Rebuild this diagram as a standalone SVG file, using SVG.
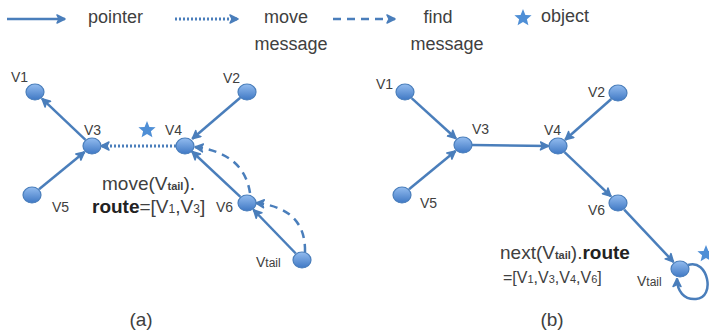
<svg xmlns="http://www.w3.org/2000/svg" width="709" height="335" viewBox="0 0 709 335">
<defs>
  <linearGradient id="ng" x1="0" y1="0" x2="0" y2="1">
    <stop offset="0" stop-color="#93bcef"/>
    <stop offset="1" stop-color="#3f78c4"/>
  </linearGradient>
  <marker id="ah" viewBox="0 0 10 10" refX="9" refY="5" markerWidth="10" markerHeight="10" markerUnits="userSpaceOnUse" orient="auto">
    <path d="M1,1 L9,5 L1,9 L3,5 Z" fill="#4a7ebb" stroke="#4a7ebb" stroke-width="1.5" stroke-linejoin="round"/>
  </marker>
  <path id="star" d="M0,-9 L2.4,-3.1 L8.6,-2.8 L3.9,1.2 L5.4,7.3 L0,3.9 L-5.4,7.3 L-3.9,1.2 L-8.6,-2.8 L-2.4,-3.1 Z"/>
</defs>
<style>
  .e { stroke:#4a7ebb; stroke-width:2.5; fill:none; marker-end:url(#ah); }
  .dot { stroke-dasharray:2 2; stroke-width:3; }
  .dash { stroke-dasharray:8 6; }
  .n { fill:url(#ng); stroke:#4a7ebb; stroke-width:1.2; }
  .t { font-family:"Liberation Sans", Arial, sans-serif; fill:#404040; }
  .lg { font-size:18px; }
  .nl { font-size:14px; }
  .big { font-size:19px; }
  .st { fill:#4f8fd6; }
</style>
<rect width="709" height="335" fill="#ffffff"/>

<g id="legend">
  <line class="e" x1="7" y1="19" x2="65" y2="19"/>
  <text class="t lg" x="88" y="23">pointer</text>
  <line class="e dot" x1="175" y1="19" x2="238" y2="19"/>
  <text class="t lg" x="286" y="23" text-anchor="middle">move</text>
  <text class="t lg" x="291" y="50" text-anchor="middle">message</text>
  <line class="e dash" x1="333" y1="19" x2="395" y2="19"/>
  <text class="t lg" x="438" y="23" text-anchor="middle">find</text>
  <text class="t lg" x="447" y="50" text-anchor="middle">message</text>
  <use href="#star" class="st" x="523" y="18"/>
  <text class="t lg" x="541" y="22">object</text>
</g>

<g id="connectors-a">
  <line class="e" x1="85.5" y1="139.8" x2="42" y2="98.7"/>
  <line class="e" x1="39" y1="189.3" x2="84.5" y2="152"/>
  <line class="e" x1="240.2" y1="97.8" x2="192.3" y2="138.8"/>
  <line class="e" x1="240.4" y1="196.9" x2="192" y2="151.5"/>
  <line class="e" x1="295.8" y1="253.5" x2="253.5" y2="209.8"/>
  <line class="e dot" x1="176" y1="146" x2="101" y2="146"/>
  <path class="e dash" d="M305,252 Q306,208 256,203"/>
  <path class="e dash" d="M250,193 Q244,153 195,147"/>
</g>

<g id="a-V1"><ellipse class="n" cx="35" cy="92" rx="9" ry="8"/><text class="t nl" x="11" y="82">V1</text></g>
<g id="a-V2"><ellipse class="n" cx="247" cy="92" rx="9" ry="8"/><text class="t nl" x="223" y="83">V2</text></g>
<g id="a-V3"><ellipse class="n" cx="92" cy="146" rx="9" ry="8"/><text class="t nl" x="84" y="135">V3</text></g>
<g id="a-V4"><ellipse class="n" cx="185" cy="146" rx="9" ry="8"/><text class="t nl" x="165" y="135">V4</text></g>
<g id="a-V5"><ellipse class="n" cx="32" cy="195" rx="9" ry="8"/><text class="t nl" x="52" y="212">V5</text></g>
<g id="a-V6"><ellipse class="n" cx="247" cy="203" rx="9" ry="8"/><text class="t nl" x="216" y="212">V6</text></g>
<g id="a-Vtail"><ellipse class="n" cx="302" cy="260" rx="9" ry="8"/><text class="t nl" x="256" y="267">V<tspan font-size="12">tail</tspan></text></g>
<g id="a-object"><use href="#star" class="st" x="147" y="130"/></g>
<g id="a-label">
  <text class="t big" x="102" y="190">move(V<tspan font-size="11" font-weight="bold">tail</tspan>).</text>
  <text class="t big" x="92" y="213"><tspan font-weight="bold" fill="#222">route</tspan>=[V<tspan font-size="12">1</tspan>,V<tspan font-size="12">3</tspan>]</text>
</g>
<text class="t big" x="141" y="326" text-anchor="middle">(a)</text>

<g id="connectors-b">
  <line class="e" x1="411.6" y1="98.1" x2="456" y2="138.5"/>
  <line class="e" x1="409" y1="189.3" x2="455.5" y2="151"/>
  <line class="e" x1="472" y1="145" x2="548.5" y2="146"/>
  <line class="e" x1="611.3" y1="99" x2="565.2" y2="139.7"/>
  <line class="e" x1="564.5" y1="152.2" x2="611" y2="196.4"/>
  <line class="e" x1="624.2" y1="209.6" x2="673.5" y2="262"/>
  <path class="e" d="M688,265 C708,258 716,298 696,299 C684,300 677,291 677,278.5"/>
</g>

<g id="b-V1"><ellipse class="n" cx="405" cy="92" rx="9" ry="8"/><text class="t nl" x="376" y="89">V1</text></g>
<g id="b-V2"><ellipse class="n" cx="618" cy="93" rx="9" ry="8"/><text class="t nl" x="588" y="97">V2</text></g>
<g id="b-V3"><ellipse class="n" cx="463" cy="145" rx="9" ry="8"/><text class="t nl" x="472" y="134">V3</text></g>
<g id="b-V4"><ellipse class="n" cx="558" cy="146" rx="9" ry="8"/><text class="t nl" x="544" y="135">V4</text></g>
<g id="b-V5"><ellipse class="n" cx="402" cy="195" rx="9" ry="8"/><text class="t nl" x="420" y="208">V5</text></g>
<g id="b-V6"><ellipse class="n" cx="618" cy="203" rx="9" ry="8"/><text class="t nl" x="588" y="215">V6</text></g>
<g id="b-Vtail"><ellipse class="n" cx="680" cy="269" rx="9" ry="8"/><text class="t nl" x="637" y="286">V<tspan font-size="12">tail</tspan></text></g>
<g id="b-object"><use href="#star" class="st" x="706" y="254"/></g>
<g id="b-label">
  <text class="t big" x="500" y="259">next(V<tspan font-size="11" font-weight="bold">tail</tspan>).<tspan font-weight="bold" fill="#222">route</tspan></text>
  <text class="t" font-size="16" x="503" y="283">=[V<tspan font-size="11">1</tspan>,V<tspan font-size="11">3</tspan>,V<tspan font-size="11">4</tspan>,V<tspan font-size="11">6</tspan>]</text>
</g>
<text class="t big" x="552" y="326" text-anchor="middle">(b)</text>
</svg>
